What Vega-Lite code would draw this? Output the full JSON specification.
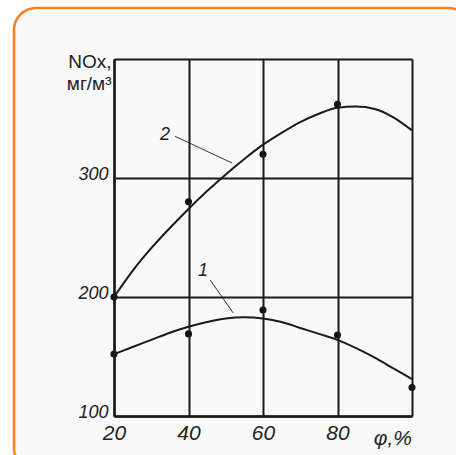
{
  "$schema": "https://vega.github.io/schema/vega-lite/v6.json",
  "width": 298,
  "height": 357,
  "autosize": {"type": "none"},
  "padding": {"left": 114, "top": 59, "right": 44, "bottom": 39},
  "background": "white",
  "config": {
    "view": {"stroke": null},
    "font": "Liberation Sans"
  },
  "datasets": {
    "curves": [
      {"load": 20, "nox": 152, "curve": "1"}, {"load": 25, "nox": 158, "curve": "1"}, {"load": 30, "nox": 164, "curve": "1"},
      {"load": 35, "nox": 170, "curve": "1"}, {"load": 40, "nox": 175, "curve": "1"}, {"load": 45, "nox": 179, "curve": "1"},
      {"load": 50, "nox": 182, "curve": "1"}, {"load": 55, "nox": 183, "curve": "1"}, {"load": 60, "nox": 182, "curve": "1"},
      {"load": 65, "nox": 179, "curve": "1"}, {"load": 70, "nox": 174, "curve": "1"}, {"load": 75, "nox": 169, "curve": "1"},
      {"load": 80, "nox": 164, "curve": "1"}, {"load": 85, "nox": 157, "curve": "1"}, {"load": 90, "nox": 149, "curve": "1"},
      {"load": 95, "nox": 140, "curve": "1"}, {"load": 100, "nox": 131, "curve": "1"},
      {"load": 20, "nox": 200, "curve": "2"}, {"load": 25, "nox": 222, "curve": "2"}, {"load": 30, "nox": 241, "curve": "2"},
      {"load": 35, "nox": 258, "curve": "2"}, {"load": 40, "nox": 274, "curve": "2"}, {"load": 45, "nox": 289, "curve": "2"},
      {"load": 50, "nox": 303, "curve": "2"}, {"load": 55, "nox": 316, "curve": "2"}, {"load": 60, "nox": 328, "curve": "2"},
      {"load": 65, "nox": 338, "curve": "2"}, {"load": 70, "nox": 347, "curve": "2"}, {"load": 75, "nox": 354, "curve": "2"},
      {"load": 80, "nox": 359, "curve": "2"}, {"load": 85, "nox": 360, "curve": "2"}, {"load": 90, "nox": 358, "curve": "2"},
      {"load": 95, "nox": 351, "curve": "2"}, {"load": 100, "nox": 340, "curve": "2"}
    ],
    "measured": [
      {"load": 20, "nox": 152, "curve": "1"}, {"load": 40, "nox": 169, "curve": "1"}, {"load": 60, "nox": 189, "curve": "1"},
      {"load": 80, "nox": 168, "curve": "1"}, {"load": 100, "nox": 124, "curve": "1"},
      {"load": 20, "nox": 200, "curve": "2"}, {"load": 40, "nox": 280, "curve": "2"}, {"load": 60, "nox": 320, "curve": "2"},
      {"load": 80, "nox": 362, "curve": "2"}
    ],
    "labels": [
      {"label": "1", "lx": 43.9, "ly": 222, "ax": 45.8, "ay": 214.3, "bx": 52, "by": 186.6},
      {"label": "2", "lx": 33.7, "ly": 336, "ax": 36.4, "ay": 335, "bx": 51.7, "by": 312.6}
    ]
  },
  "layer": [
    {
      "data": {"values": [{}]},
      "mark": {"type": "rect", "fill": "#f9f9f9", "stroke": "#f5821f", "strokeWidth": 2.5, "cornerRadius": 22},
      "encoding": {
        "x": {"datum": -6.85, "type": "quantitative", "scale": {"domain": [20, 100], "nice": false, "zero": false},
          "axis": {"values": [20, 40, 60, 80, 100], "labelExpr": "datum.value == 100 ? '' : datum.label", "labelFlush": false, "grid": true, "gridColor": "#1a1a1a", "gridWidth": 2, "gridOpacity": 1, "domain": true, "domainColor": "#1a1a1a", "domainWidth": 2.5, "ticks": false, "labelFont": "Liberation Sans", "labelFontStyle": "italic", "labelFontSize": 21, "labelPadding": 6, "labelColor": "#222222", "title": null, "zindex": 1}},
        "x2": {"datum": 115.6},
        "y": {"datum": 442.9, "type": "quantitative", "scale": {"domain": [100, 400], "nice": false, "zero": false},
          "axis": {"values": [100, 200, 300, 400], "labelExpr": "datum.value == 400 ? '' : datum.label", "labelFlush": false, "grid": true, "gridColor": "#1a1a1a", "gridWidth": 2, "gridOpacity": 1, "domain": true, "domainColor": "#1a1a1a", "domainWidth": 2.5, "ticks": false, "labelFont": "Liberation Sans", "labelFontStyle": "italic", "labelFontSize": 18, "labelPadding": 6, "labelOffset": -4, "labelColor": "#222222", "zindex": 1,
            "title": ["NOx,", "мг/м³"], "titleAngle": 0, "titleAlign": "right", "titleBaseline": "top", "titleX": -3, "titleY": -7, "titleFont": "Liberation Sans", "titleFontSize": 19, "titleFontWeight": "normal", "titleColor": "#222222", "titleLineHeight": 22}},
        "y2": {"datum": 54.6}
      }
    },
    {
      "data": {"name": "curves"},
      "mark": {"type": "line", "interpolate": "monotone", "color": "#1a1a1a", "strokeWidth": 2},
      "encoding": {
        "x": {"field": "load", "type": "quantitative"},
        "y": {"field": "nox", "type": "quantitative"},
        "detail": {"field": "curve"}
      }
    },
    {
      "data": {"name": "measured"},
      "mark": {"type": "circle", "color": "#111111", "size": 50, "opacity": 1},
      "encoding": {
        "x": {"field": "load", "type": "quantitative"},
        "y": {"field": "nox", "type": "quantitative"}
      }
    },
    {
      "data": {"name": "labels"},
      "mark": {"type": "rule", "color": "#333333", "strokeWidth": 1},
      "encoding": {
        "x": {"field": "ax", "type": "quantitative"},
        "y": {"field": "ay", "type": "quantitative"},
        "x2": {"field": "bx"},
        "y2": {"field": "by"}
      }
    },
    {
      "data": {"name": "labels"},
      "mark": {"type": "text", "font": "Liberation Sans", "fontStyle": "italic", "fontSize": 18, "color": "#222222", "align": "center", "baseline": "middle"},
      "encoding": {
        "x": {"field": "lx", "type": "quantitative"},
        "y": {"field": "ly", "type": "quantitative"},
        "text": {"field": "label"}
      }
    },
    {
      "data": {"values": [{"name": "φ,%"}]},
      "mark": {"type": "text", "font": "Liberation Sans", "fontStyle": "italic", "fontSize": 21, "color": "#222222", "align": "right", "baseline": "top", "dy": 12},
      "encoding": {
        "x": {"datum": 100, "type": "quantitative"},
        "y": {"datum": 100, "type": "quantitative"},
        "text": {"field": "name"}
      }
    }
  ]
}
